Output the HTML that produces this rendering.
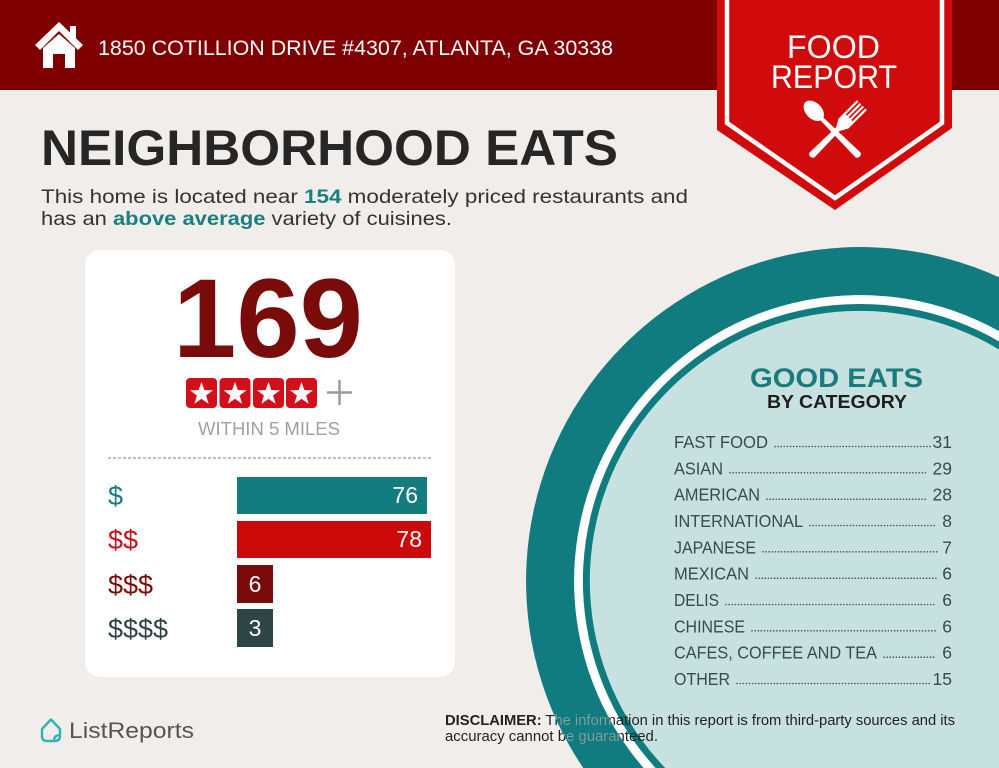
<!DOCTYPE html>
<html><head><meta charset="utf-8"><style>
html,body{margin:0;padding:0;background:#f1edea;width:999px;height:768px;overflow:hidden;}
svg{display:block;}
text{font-family:"Liberation Sans",sans-serif;}
</style></head><body>
<svg width="999" height="768" viewBox="0 0 999 768" xmlns="http://www.w3.org/2000/svg">
<defs>
<clipPath id="ring"><path clip-rule="evenodd" d="M999,277.3 A334,334 0 0,0 583.3,768 L999,768 Z M999,331.1 A286,286 0 0,0 643.6,768 L999,768 Z"/></clipPath>
</defs>
<rect x="0" y="0" width="999" height="768" fill="#f1edea"/>
<!-- header -->
<rect x="0" y="0" width="999" height="90" fill="#7f0000"/>
<!-- house icon -->
<polygon points="59,22 35,45 40,50 59,31 78,50 83,45" fill="#fff"/>
<rect x="70" y="26" width="6" height="13" fill="#fff"/>
<polygon points="43,48 59,34 75,48 75,68 65,68 65,54 53,54 53,68 43,68" fill="#fff"/>
<text x="98" y="55" font-size="21" fill="#fff" textLength="515" lengthAdjust="spacingAndGlyphs">1850 COTILLION DRIVE #4307, ATLANTA, GA 30338</text>

<!-- badge -->
<polygon points="717,0 952,0 952,128 835,210 717,130" fill="#d10b0b"/>
<polyline points="727,0 727,123 835,198 942,123 942,0" fill="none" stroke="#fff" stroke-width="4.5"/>
<text x="787" y="58" font-size="32" fill="#fff" textLength="93" lengthAdjust="spacingAndGlyphs">FOOD</text>
<text x="771" y="88" font-size="32" fill="#fff" textLength="126" lengthAdjust="spacingAndGlyphs">REPORT</text>
<!-- spoon -->
<g transform="translate(835,132) rotate(45)" fill="#fff">
  <ellipse cx="-30" cy="0" rx="12" ry="8"/>
  <path d="M-20,-2 L33,-3.5 Q37,0 33,3.5 L-20,2 Z"/>
</g>
<!-- fork -->
<g transform="translate(835,132) rotate(-45)" fill="#fff">
  <path d="M-33,-3.5 L6,-2.5 L6,2.5 L-33,3.5 Q-37,0 -33,-3.5 Z"/>
  <path d="M4,-2.5 L12,-7 L20,-7 L20,7 L12,7 L4,2.5 Z"/>
  <rect x="18" y="-7" width="20" height="2.2"/>
  <rect x="18" y="-3" width="20" height="2.2"/>
  <rect x="18" y="0.8" width="20" height="2.2"/>
  <rect x="18" y="4.8" width="20" height="2.2"/>
</g>

<!-- title -->
<text x="41" y="165" font-size="50" font-weight="bold" fill="#262626" textLength="577" lengthAdjust="spacingAndGlyphs">NEIGHBORHOOD EATS</text>
<text x="41" y="203" font-size="19.5" fill="#333" textLength="647" lengthAdjust="spacingAndGlyphs">This home is located near <tspan font-weight="bold" fill="#1a7f80">154</tspan> moderately priced restaurants and</text>
<text x="41" y="225" font-size="19.5" fill="#333" textLength="411" lengthAdjust="spacingAndGlyphs">has an <tspan font-weight="bold" fill="#1a7f80">above average</tspan> variety of cuisines.</text>

<!-- card -->
<rect x="85" y="250" width="370" height="427" rx="15" fill="#fff"/>
<text x="173" y="357" font-size="112" font-weight="bold" fill="#7a0b0b" textLength="190" lengthAdjust="spacingAndGlyphs">169</text>
<g fill="#d3101a">
<rect x="186" y="378" width="31" height="30" rx="4"/>
<rect x="219.5" y="378" width="31" height="30" rx="4"/>
<rect x="253" y="378" width="31" height="30" rx="4"/>
<rect x="286" y="378" width="31" height="30" rx="4"/>
</g>
<g fill="#fff">
<polygon transform="translate(201.5,394) scale(1.1)" points="0,-11 2.59,-3.56 10.46,-3.4 4.18,1.36 6.47,8.9 0,4.4 -6.47,8.9 -4.18,1.36 -10.46,-3.4 -2.59,-3.56"/>
<polygon transform="translate(235,394) scale(1.1)" points="0,-11 2.59,-3.56 10.46,-3.4 4.18,1.36 6.47,8.9 0,4.4 -6.47,8.9 -4.18,1.36 -10.46,-3.4 -2.59,-3.56"/>
<polygon transform="translate(268.5,394) scale(1.1)" points="0,-11 2.59,-3.56 10.46,-3.4 4.18,1.36 6.47,8.9 0,4.4 -6.47,8.9 -4.18,1.36 -10.46,-3.4 -2.59,-3.56"/>
<polygon transform="translate(301.5,394) scale(1.1)" points="0,-11 2.59,-3.56 10.46,-3.4 4.18,1.36 6.47,8.9 0,4.4 -6.47,8.9 -4.18,1.36 -10.46,-3.4 -2.59,-3.56"/>
</g>
<path d="M327,392.5 H352 M339.5,380 V405" stroke="#9a9a9a" stroke-width="2.5" fill="none"/>
<text x="198" y="435" font-size="18" fill="#a0a0a0" textLength="142" lengthAdjust="spacingAndGlyphs">WITHIN 5 MILES</text>
<line x1="108" y1="458" x2="432" y2="458" stroke="#aaa" stroke-width="1.5" stroke-dasharray="3 2"/>

<text x="108" y="505" font-size="27" fill="#177c7e">$</text>
<text x="108" y="549" font-size="27" fill="#c8101a">$$</text>
<text x="108" y="594" font-size="27" fill="#7a0b0b">$$$</text>
<text x="108" y="638" font-size="27" fill="#2e4445">$$$$</text>

<rect x="237" y="477" width="190" height="37" fill="#137c7f"/>
<rect x="237" y="521" width="194" height="37" fill="#cc0a0a"/>
<rect x="237" y="565" width="36" height="38" fill="#7a0a0a"/>
<rect x="237" y="609" width="36" height="38" fill="#2e4546"/>
<g font-size="23" fill="#fff">
<text x="418" y="503" text-anchor="end">76</text>
<text x="422" y="547" text-anchor="end">78</text>
<text x="255" y="592" text-anchor="middle">6</text>
<text x="255" y="636" text-anchor="middle">3</text>
</g>

<!-- circle (clipped to frame) -->
<path d="M999,277.3 A334,334 0 0,0 583.3,768 L999,768 Z" fill="#117c80"/>
<path d="M999,331.1 A286,286 0 0,0 643.6,768 L999,768 Z" fill="#fff"/>
<path d="M999,341.4 A277,277 0 0,0 655.6,768 L999,768 Z" fill="#117c80"/>
<path d="M999,349.5 A270,270 0 0,0 665.2,768 L999,768 Z" fill="#c6e1df"/>

<text x="750" y="387" font-size="27" font-weight="bold" fill="#1a7b7d" textLength="173" lengthAdjust="spacingAndGlyphs">GOOD EATS</text>
<text x="767" y="408" font-size="18.5" font-weight="bold" fill="#1e1e1e" textLength="140" lengthAdjust="spacingAndGlyphs">BY CATEGORY</text>

<g font-size="17.5" fill="#3b4a4b">
<text x="674" y="448" textLength="94" lengthAdjust="spacingAndGlyphs">FAST FOOD</text>
<text x="674" y="474.3" textLength="49" lengthAdjust="spacingAndGlyphs">ASIAN</text>
<text x="674" y="500.7" textLength="86" lengthAdjust="spacingAndGlyphs">AMERICAN</text>
<text x="674" y="527" textLength="129" lengthAdjust="spacingAndGlyphs">INTERNATIONAL</text>
<text x="674" y="553.3" textLength="82" lengthAdjust="spacingAndGlyphs">JAPANESE</text>
<text x="674" y="579.7" textLength="75" lengthAdjust="spacingAndGlyphs">MEXICAN</text>
<text x="674" y="606" textLength="45" lengthAdjust="spacingAndGlyphs">DELIS</text>
<text x="674" y="632.3" textLength="71" lengthAdjust="spacingAndGlyphs">CHINESE</text>
<text x="674" y="658.7" textLength="203" lengthAdjust="spacingAndGlyphs">CAFES, COFFEE AND TEA</text>
<text x="674" y="685" textLength="56" lengthAdjust="spacingAndGlyphs">OTHER</text>
</g>
<g font-size="17.5" fill="#3b4a4b" text-anchor="end">
<text x="952" y="448">31</text>
<text x="952" y="474.3">29</text>
<text x="952" y="500.7">28</text>
<text x="952" y="527">8</text>
<text x="952" y="553.3">7</text>
<text x="952" y="579.7">6</text>
<text x="952" y="606">6</text>
<text x="952" y="632.3">6</text>
<text x="952" y="658.7">6</text>
<text x="952" y="685">15</text>
</g>
<g stroke="#4a5555" stroke-width="1.6" stroke-linecap="round" stroke-dasharray="0.1 3">
<line x1="775" y1="446.5" x2="932" y2="446.5"/>
<line x1="730" y1="472.8" x2="927" y2="472.8"/>
<line x1="767" y1="499.2" x2="927" y2="499.2"/>
<line x1="810" y1="525.5" x2="936" y2="525.5"/>
<line x1="763" y1="551.8" x2="938" y2="551.8"/>
<line x1="756" y1="578.2" x2="936" y2="578.2"/>
<line x1="726" y1="604.5" x2="936" y2="604.5"/>
<line x1="752" y1="630.8" x2="936" y2="630.8"/>
<line x1="884" y1="657.2" x2="936" y2="657.2"/>
<line x1="737" y1="683.5" x2="930" y2="683.5"/>
</g>

<!-- disclaimer -->
<g font-size="15" fill="#222">
<text x="445" y="725" textLength="510" lengthAdjust="spacingAndGlyphs"><tspan font-weight="bold">DISCLAIMER:</tspan> The information in this report is from third-party sources and its</text>
<text x="445" y="741" textLength="213" lengthAdjust="spacingAndGlyphs">accuracy cannot be guaranteed.</text>
</g>
<g font-size="15" fill="#7fa4a5" clip-path="url(#ring)">
<text x="445" y="725" textLength="510" lengthAdjust="spacingAndGlyphs"><tspan font-weight="bold">DISCLAIMER:</tspan> The information in this report is from third-party sources and its</text>
<text x="445" y="741" textLength="213" lengthAdjust="spacingAndGlyphs">accuracy cannot be guaranteed.</text>
</g>

<!-- ListReports logo -->
<path d="M42,729 L51,719.5 L60,729 L60,736 Q60,741 55,741 L47,741 Q42,741 42,736 Z" fill="none" stroke="#2bb5b8" stroke-width="2.4" stroke-linejoin="round"/>
<path d="M54,741 Q54,735 60,735" fill="none" stroke="#2bb5b8" stroke-width="2.2"/>
<text x="69" y="738" font-size="22" fill="#555" textLength="125" lengthAdjust="spacingAndGlyphs">ListReports</text>
</svg>
</body></html>
